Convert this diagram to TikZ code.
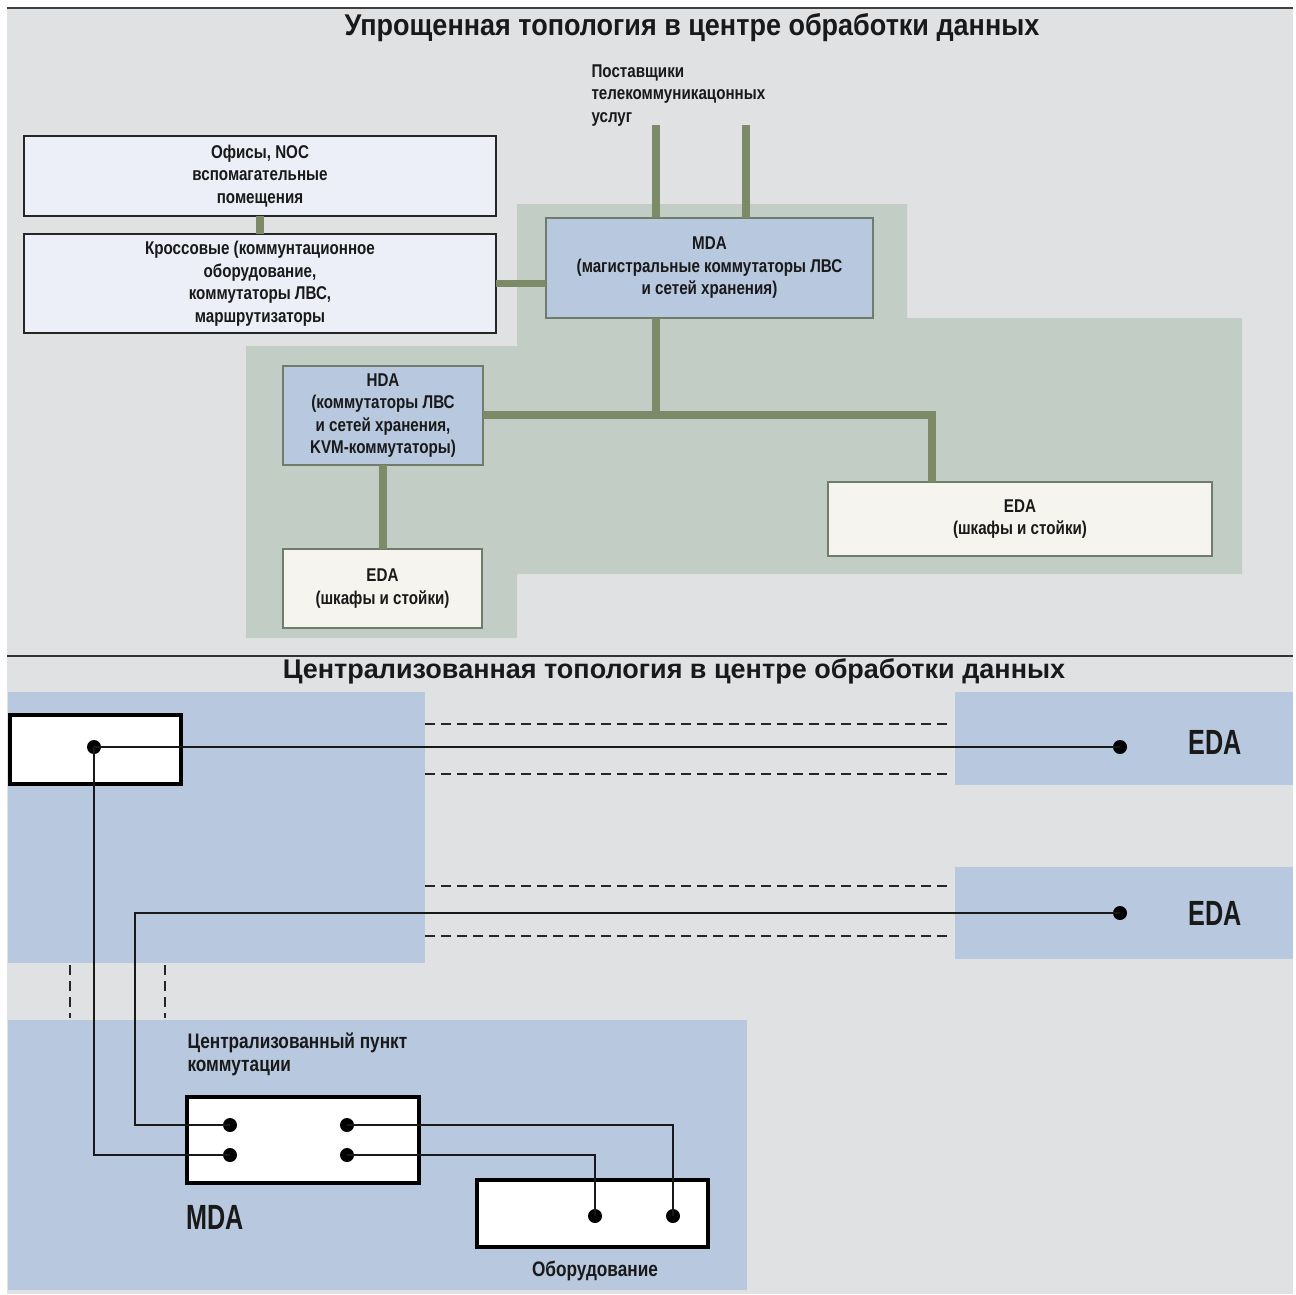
\documentclass[tikz,border=0pt]{standalone}
\usepackage{fontspec}
\setmainfont{Liberation Sans}
\newfontfamily\cond[FakeStretch=0.82]{Liberation Sans}
\newfontfamily\bcond[FakeStretch=0.72]{Liberation Sans}
\newfontfamily\tcond[FakeStretch=0.9]{Liberation Sans}
\definecolor{bgc}{HTML}{E0E1E3}
\definecolor{sage}{HTML}{C1CDC5}
\definecolor{pipec}{HTML}{7D8A68}
\definecolor{blu}{HTML}{B8C8DF}
\definecolor{lav}{HTML}{EDEFF8}
\definecolor{cream}{HTML}{F5F4EE}
\definecolor{edgec}{HTML}{6F7C6A}
\tikzset{
  lbl/.style={font=\cond\bfseries\fontsize{18.5}{22.5}\selectfont, align=center, text=black!90},
  topbox/.style={draw=black!85, line width=1.6pt, fill=lav, inner sep=0pt, outer sep=0pt, lbl},
  bluebox/.style={draw=edgec, line width=1.2pt, fill=blu, inner sep=0pt, outer sep=0pt, lbl},
  edabox/.style={draw=edgec, line width=1.2pt, fill=cream, inner sep=0pt, outer sep=0pt, lbl},
  pipe/.style={line width=7.5pt, draw=pipec},
  wbox/.style={draw=black, line width=3.5pt, fill=white, inner sep=0pt, outer sep=0pt},
  wire/.style={line width=2pt, draw=black!90},
  dline/.style={line width=2pt, draw=black!85, dash pattern=on 10pt off 6pt},
  dot/.style={circle, fill=black, minimum size=14pt, inner sep=0pt},
  biglbl/.style={font=\bcond\bfseries\fontsize{35}{40}\selectfont, text=black!90},
  mlbl/.style={font=\cond\bfseries\fontsize{21}{23}\selectfont, text=black!90},
}
\begin{document}
\begin{tikzpicture}[x=1pt,y=-1pt]
\useasboundingbox (0,0) rectangle (1296,1294);
\fill[white] (0,0) rectangle (1296,1294);
\fill[bgc] (7,7) rectangle (1293,1294);
\draw[line width=2.5pt, black!75] (7,8) -- (1293,8);

% ---------- top diagram ----------
\node[font=\tcond\bfseries\fontsize{30}{34}\selectfont, text=black!90] (t1) at (692,28) {Упрощенная топология в центре обработки данных};

\fill[sage] (517,204) -- (907,204) -- (907,318) -- (1242,318) -- (1242,574) -- (517,574)
  -- (517,638) -- (246,638) -- (246,346) -- (517,346) -- cycle;

\node[topbox, minimum width=472pt, minimum height=80pt] (ofis) at (260,176)
  {Офисы, NOC\\вспомагательные\\помещения};
\node[topbox, minimum width=472pt, minimum height=99pt] (cross) at (260,283.5)
  {Кроссовые (коммунтационное\\оборудование,\\коммутаторы ЛВС,\\маршрутизаторы};
\node[bluebox, minimum width=327pt, minimum height=100pt] (mda) at (709.5,268)
  {MDA\\(магистральные коммутаторы ЛВС\\и сетей хранения)};
\node[bluebox, minimum width=200pt, minimum height=99pt] (hda) at (383,415.5)
  {HDA\\(коммутаторы ЛВС\\и сетей хранения,\\KVM-коммутаторы)};
\node[edabox, minimum width=199pt, minimum height=79pt] (edas) at (382.5,588.5)
  {EDA\\(шкафы и стойки)};
\node[edabox, minimum width=384pt, minimum height=74pt] (edab) at (1020,519)
  {EDA\\(шкафы и стойки)};
\node[lbl, align=left, anchor=north west] (tel) at (588,61)
  {Поставщики\\телекоммуникацонных\\услуг};

\coordinate (tel1) at (656,125);
\coordinate (tel2) at (746,125);
\coordinate (j) at (656,415);
\coordinate (k) at (932,415);

\draw[pipe] (ofis.south) -- (cross.north);
\draw[pipe] (cross.east) -- (cross.east -| mda.west);
\draw[pipe] (tel1) -- (tel1 |- mda.north);
\draw[pipe] (tel2) -- (tel2 |- mda.north);
\draw[pipe] (j |- mda.south) -- (j);
\draw[pipe] (hda.east |- j) -- (k) -- (k |- edab.north);
\draw[pipe] (hda.south) -- (hda.south |- edas.north);

% ---------- separator ----------
\draw[line width=2pt, black!80] (7,656) -- (1293,656);
\node[font=\bfseries\fontsize{27}{30}\selectfont, text=black!90] (t2) at (674,671)
  {Централизованная топология в центре обработки данных};

% ---------- bottom diagram ----------
\fill[blu] (8,692) rectangle (425,963);
\fill[blu] (955,692) rectangle (1293,785);
\fill[blu] (955,867) rectangle (1293,959);
\fill[blu] (8,1020) rectangle (747,1290);

\draw[dline] (425,724) -- (948,724);
\draw[dline] (425,774) -- (948,774);
\draw[dline] (425,886) -- (948,886);
\draw[dline] (425,936) -- (948,936);
\draw[dline] (70,965) -- (70,1018);
\draw[dline] (165,965) -- (165,1018);

\node[wbox, minimum width=171pt, minimum height=69pt] (b1) at (95.5,749.5) {};
\node[wbox, minimum width=232pt, minimum height=86pt] (mdab) at (303,1140) {};
\node[wbox, minimum width=231pt, minimum height=67pt] (eq) at (592.5,1213.5) {};

\node[dot] (d1) at (94,747) {};
\node[dot] (e1) at (1120,747) {};
\node[dot] (e2) at (1120,913) {};
\node[dot] (m1) at (230,1125) {};
\node[dot] (m2) at (230,1155) {};
\node[dot] (m3) at (347,1125) {};
\node[dot] (m4) at (347,1155) {};
\node[dot] (q1) at (595,1216) {};
\node[dot] (q2) at (673,1216) {};
\coordinate (c2) at (135,913);

\draw[wire] (d1.center) -- (e1.center);
\draw[wire] (d1.center) |- (m2.center);
\draw[wire] (e2.center) -- (c2) |- (m1.center);
\draw[wire] (m3.center) -| (q2.center);
\draw[wire] (m4.center) -| (q1.center);

\node[biglbl] (eda1) at (1215,742) {EDA};
\node[biglbl] (eda2) at (1215,913) {EDA};
\node[biglbl] (mdal) at (215,1217) {MDA};
\node[mlbl, align=left, anchor=west] (cpk) at (184,1054) {Централизованный пункт\\коммутации};
\node[mlbl] (eql) at (595,1271) {Оборудование};
\end{tikzpicture}
\end{document}
